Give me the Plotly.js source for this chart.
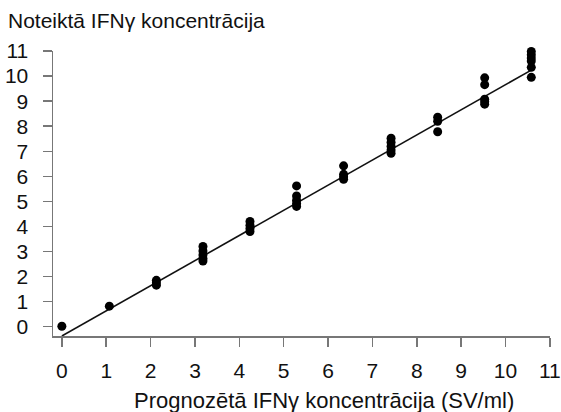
<!DOCTYPE html>
<html>
<head>
<meta charset="utf-8">
<script src="https://cdn.plot.ly/plotly-3.0.1.min.js"></script>
<style>html,body{margin:0;padding:0;background:#fff;}#chart{width:561px;height:412px;}</style>
</head>
<body>
<div id="chart"></div>
<script>
// Predicted IFN-gamma concentration (x) and measured values (y)
const predicted = [
  0,
  1.07,
  2.13, 2.13, 2.13,
  3.18, 3.18, 3.18, 3.18, 3.18,
  4.24, 4.24, 4.24, 4.24,
  5.29, 5.29, 5.29, 5.29, 5.29,
  6.35, 6.35, 6.35, 6.35,
  7.42, 7.42, 7.42, 7.42, 7.42,
  8.47, 8.47, 8.47,
  9.53, 9.53, 9.53, 9.53, 9.53,
  10.58, 10.58, 10.58, 10.58, 10.58, 10.58
];
const measured = [
  0.02,
  0.82,
  1.85, 1.75, 1.66,
  3.2, 3.02, 2.86, 2.72, 2.62,
  4.2, 4.05, 3.92, 3.8,
  5.62, 5.22, 5.05, 4.92, 4.8,
  6.42, 6.08, 5.98, 5.88,
  7.52, 7.36, 7.2, 7.05, 6.92,
  8.36, 8.2, 7.78,
  9.93, 9.66, 9.08, 8.98, 8.88,
  10.98, 10.85, 10.72, 10.6, 10.35, 9.95
];
// Regression line end points
const fitX = [0, 10.58];
const fitY = [-0.37, 10.24];

const xTicks = [0,1,2,3,4,5,6,7,8,9,10,11];
const yTicks = [0,1,2,3,4,5,6,7,8,9,10,11];

const titleText = 'Noteiktā IFNγ koncentrācija';
const xTitleText = 'Prognozētā IFNγ koncentrācija (SV/ml)';

const FONT = 'Liberation Sans, Arial, sans-serif';

const traces = [
  {
    x: fitX, y: fitY, type: 'scatter', mode: 'lines',
    line: {color: '#111', width: 1.6}, hoverinfo: 'skip', showlegend: false
  },
  {
    x: predicted, y: measured, type: 'scatter', mode: 'markers',
    marker: {color: '#000', size: 9}, showlegend: false, cliponaxis: false
  }
];

const layout = {
  width: 561, height: 412,
  paper_bgcolor: '#fff', plot_bgcolor: '#fff',
  margin: {l: 53, r: 11, t: 51, b: 76},
  font: {family: FONT, color: '#111', size: 21},
  title: {
    text: titleText,
    x: 8/561, xanchor: 'left', xref: 'container',
    y: 1 - 21/412, yanchor: 'middle', yref: 'container',
    font: {family: FONT, size: 21, color: '#111'}
  },
  xaxis: {
    range: [-0.2, 11.002], tickvals: xTicks, ticktext: xTicks.map(String),
    showgrid: false, zeroline: false, showline: true,
    linecolor: '#777', linewidth: 1.5,
    ticks: 'outside', ticklen: 9, tickcolor: '#777', tickwidth: 1.5,
    ticklabelstandoff: 6, ticklabeloverflow: 'allow',
    tickfont: {family: FONT, size: 21, color: '#111'}
  },
  yaxis: {
    range: [-0.37, 11.002], tickvals: yTicks, ticktext: yTicks.map(String),
    showgrid: false, zeroline: false, showline: true,
    linecolor: '#777', linewidth: 1.5,
    ticks: 'outside', ticklen: 9, tickcolor: '#777', tickwidth: 1.5,
    ticklabelstandoff: 10, ticklabeloverflow: 'allow',
    tickfont: {family: FONT, size: 21, color: '#111'}
  },
  annotations: [{
    text: xTitleText, xref: 'paper', yref: 'paper',
    x: (324 - 53) / 497, y: (336 - 400) / 285,
    xanchor: 'center', yanchor: 'middle', showarrow: false,
    font: {family: FONT, size: 22, color: '#111'}
  }]
};

Plotly.newPlot('chart', traces, layout, {displayModeBar: false, staticPlot: true});
</script>
</body>
</html>
